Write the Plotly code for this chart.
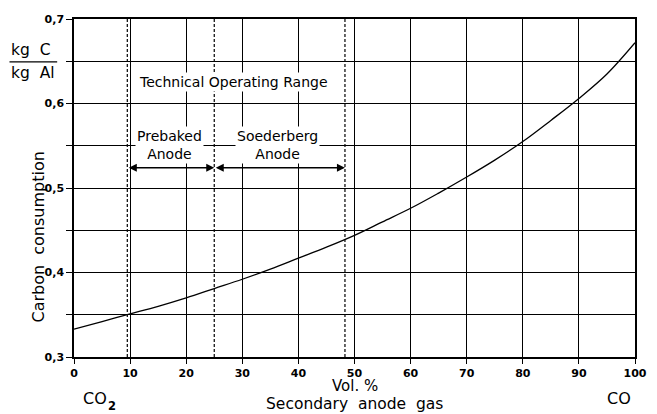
import plotly.graph_objects as go

# Data
vol_pct = [0, 5, 10, 15, 20, 25, 30, 35, 40, 45, 50, 55, 60, 65, 70, 75, 80, 85, 90, 95, 100]
carbon = [0.333, 0.342, 0.351, 0.360, 0.370, 0.381, 0.392, 0.404, 0.417, 0.430, 0.444,
          0.460, 0.476, 0.494, 0.513, 0.533, 0.555, 0.580, 0.606, 0.635, 0.672]
x_ticks = [0, 10, 20, 30, 40, 50, 60, 70, 80, 90, 100]
x_ticktext = [str(v) for v in x_ticks]
y_ticks = [0.3, 0.35, 0.4, 0.45, 0.5, 0.55, 0.6, 0.65, 0.7]
y_ticktext = ["0,3", "", "0,4", "", "0,5", "", "0,6", "", "0,7"]
range_bounds = [9.5, 25, 48.3]   # dashed boundaries
arrow_y = 0.524

FONT = "DejaVu Sans"
fig = go.Figure()
fig.add_trace(go.Scatter(x=vol_pct, y=carbon, mode="lines", line=dict(color="black", width=1.3, shape="spline"),
                         hoverinfo="skip", showlegend=False))

# dashed boundaries
for xb in range_bounds:
    fig.add_shape(type="line", x0=xb, x1=xb, y0=0.3, y1=0.7, xref="x", yref="y",
                  line=dict(color="black", width=1.2, dash="3px,2px"))

# double arrows
for a, b in [(range_bounds[0], range_bounds[1]), (range_bounds[1], range_bounds[2])]:
    fig.add_annotation(x=b, y=arrow_y, ax=a, ay=arrow_y, xref="x", yref="y", axref="x", ayref="y",
                       showarrow=True, arrowhead=2, arrowside="end+start", arrowwidth=1.6,
                       arrowsize=1, arrowcolor="black", text="")

txt = dict(family=FONT, size=14, color="black")
fig.add_annotation(x=28.5, y=0.626, text="Technical Operating Range", showarrow=False, font=txt,
                   bgcolor="white", xref="x", yref="y")
fig.add_annotation(x=17, y=0.551, text="Prebaked<br>Anode", showarrow=False, font=txt,
                   bgcolor="white", xref="x", yref="y")
fig.add_annotation(x=36.3, y=0.551, text="Soederberg<br>Anode", showarrow=False, font=txt,
                   bgcolor="white", xref="x", yref="y")

# unit label (kg C / kg Al)
fig.add_annotation(x=-0.116, y=0.876, xref="paper", yref="paper", text="kg  C", showarrow=False,
                   font=dict(family=FONT, size=15.5, color="black"), xanchor="left", yanchor="bottom")
fig.add_annotation(x=-0.116, y=0.873, xref="paper", yref="paper", text="kg  Al", showarrow=False,
                   font=dict(family=FONT, size=15.5, color="black"), xanchor="left", yanchor="top")
fig.add_shape(type="line", xref="paper", yref="paper", x0=-0.115, x1=-0.03, y0=0.873, y1=0.873,
              line=dict(color="black", width=1.2))

fig.add_annotation(x=-0.0855, y=0.355, xref="paper", yref="paper", text="Carbon  consumption",
                   textangle=-90, showarrow=False, font=dict(family=FONT, size=16, color="black"))

fig.add_annotation(x=0.5, y=-0.086, xref="paper", yref="paper", text="Vol. %", showarrow=False, borderpad=0,
                   font=dict(family=FONT, size=15, color="black"), yanchor="middle")
fig.add_annotation(x=0.5, y=-0.138, xref="paper", yref="paper", text="Secondary  anode  gas", showarrow=False,
                   borderpad=0, font=dict(family=FONT, size=15.5, color="black"), yanchor="middle")
fig.add_annotation(x=0.015, y=-0.122, xref="paper", yref="paper", text="CO", showarrow=False, borderpad=0,
                   font=dict(family=FONT, size=16, color="black"), yanchor="middle")
fig.add_annotation(x=0.058, y=-0.146, xref="paper", yref="paper", text="2", showarrow=False, borderpad=0,
                   font=dict(family=FONT, size=11.5, color="black", weight="bold"), yanchor="middle")
fig.add_annotation(x=0.994, y=-0.122, xref="paper", yref="paper", text="CO", showarrow=False, borderpad=0,
                   font=dict(family=FONT, size=16, color="black"), yanchor="middle")

tickfont = dict(family=FONT, size=11, color="black", weight="bold")
fig.update_xaxes(range=[0, 100], tickvals=x_ticks, ticktext=x_ticktext, showgrid=True, gridcolor="black",
                 gridwidth=1, showline=True, linecolor="black", linewidth=1.5, mirror=True, ticks="outside",
                 ticklen=5, tickcolor="black", zeroline=False, tickfont=tickfont)
fig.update_yaxes(range=[0.3, 0.7], tickvals=y_ticks, ticktext=y_ticktext, showgrid=True, gridcolor="black",
                 gridwidth=1, showline=True, linecolor="black", linewidth=1.5, mirror=True, ticks="outside",
                 ticklen=6, tickcolor="black", zeroline=False, tickfont=tickfont)
fig.update_layout(width=657, height=414, margin=dict(l=74, r=10, t=19, b=57),
                  plot_bgcolor="white", paper_bgcolor="white", showlegend=False)
fig.write_html("out.html", config={"displayModeBar": False},
               post_script="document.body.style.margin='0';document.body.style.overflow='hidden';")
